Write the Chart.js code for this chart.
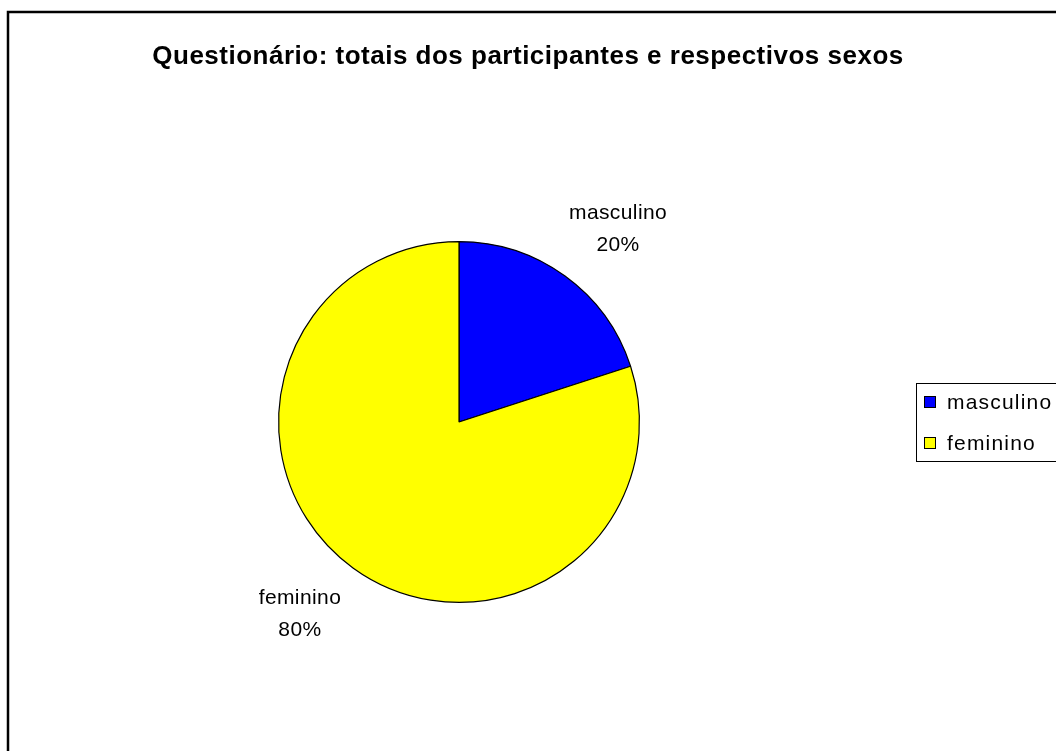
<!DOCTYPE html>
<html>
<head>
<meta charset="utf-8">
<style>
  body { margin: 0; background: #fff; }
  #chart { display: block; }
</style>
</head>
<body>

<canvas id="chart" width="1056" height="751"></canvas>

<script src="https://cdn.jsdelivr.net/npm/chart.js"></script>
<script>
// dados do gráfico
const titulo = 'Questionário: totais dos participantes e respectivos sexos';
const categorias = ['masculino', 'feminino'];
const valores = [20, 80];
const cores = ['#0000ff', '#ffff00'];

const fonte = '"Liberation Sans", Arial, sans-serif';

// moldura, título, rótulos e legenda desenhados à mão
const extras = {
  id: 'extras',
  afterDraw(chart) {
    const ctx = chart.ctx;
    ctx.save();

    // moldura
    ctx.strokeStyle = '#000';
    ctx.lineWidth = 2.5;
    ctx.strokeRect(8, 12, 1100, 800);

    // título
    ctx.fillStyle = '#000';
    ctx.font = 'bold 26px ' + fonte;
    ctx.letterSpacing = '0.5px';
    ctx.textAlign = 'center';
    ctx.textBaseline = 'middle';
    ctx.fillText(titulo, 528, 57);

    // rótulos das fatias
    ctx.font = '21px ' + fonte;
    ctx.letterSpacing = '0.4px';
    const total = valores.reduce((a, b) => a + b, 0);
    chart.getDatasetMeta(0).data.forEach((el, i) => {
      const a = (el.startAngle + el.endAngle) / 2;
      const x = el.x + Math.cos(a) * el.outerRadius * 1.5;
      const y = el.y + Math.sin(a) * el.outerRadius * 1.32;
      ctx.fillText(categorias[i], x, y - 16);
      ctx.fillText(Math.round(valores[i] / total * 100) + '%', x, y + 16);
    });

    // legenda
    ctx.lineWidth = 1;
    ctx.strokeStyle = '#000';
    ctx.strokeRect(916.5, 383.5, 200, 78);
    ctx.textAlign = 'left';
    ctx.letterSpacing = '1.2px';
    categorias.forEach((c, i) => {
      const y = 402 + i * 41;
      ctx.fillStyle = cores[i];
      ctx.fillRect(924, y - 6, 12, 12);
      ctx.strokeRect(924.5, y - 5.5, 11, 11);
      ctx.fillStyle = '#000';
      ctx.fillText(c, 947, y + 1);
    });

    ctx.restore();
  }
};

new Chart(document.getElementById('chart'), {
  type: 'pie',
  data: {
    labels: categorias,
    datasets: [{
      data: valores,
      backgroundColor: cores,
      borderColor: '#000',
      borderWidth: 1.2
    }]
  },
  options: {
    responsive: false,
    animation: false,
    layout: { padding: { left: 278, right: 416, top: 241, bottom: 148 } },
    plugins: {
      legend: { display: false },
      title: { display: false },
      tooltip: { enabled: false }
    }
  },
  plugins: [extras]
});
</script>

</body>
</html>
